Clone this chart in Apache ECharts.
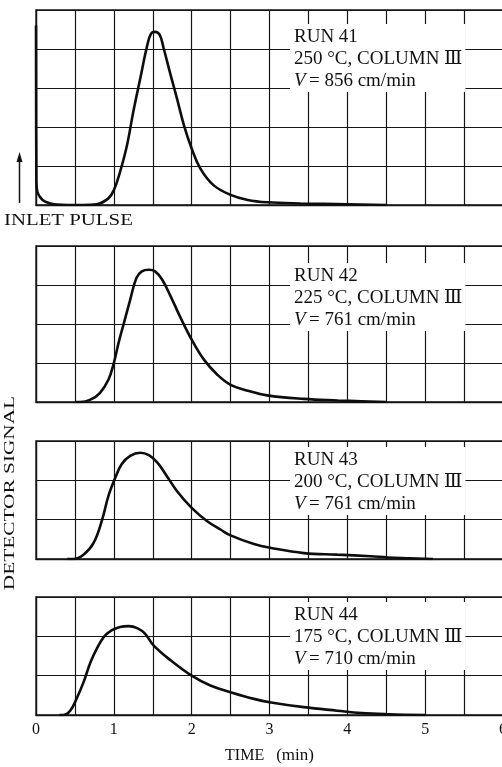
<!DOCTYPE html>
<html>
<head>
<meta charset="utf-8">
<title>Detector signal, runs 41-44</title>
<script src="https://cdn.jsdelivr.net/npm/echarts@6/dist/echarts.min.js"></script>
<style>
  html, body { margin: 0; padding: 0; background: #fff; }
  #chart { width: 502px; height: 767px; }
</style>
</head>
<body>
<div id="chart"></div>
<script>
// values (time in min, signal in grid divisions)
var run41Time = [0, 0.005, 0.017, 0.05, 0.09, 0.14, 0.2, 0.27, 0.4, 0.6, 0.78, 0.93, 1.0, 1.08, 1.17, 1.25, 1.34, 1.43, 1.48, 1.53, 1.59, 1.64, 1.73, 1.81, 1.9, 2.0, 2.11, 2.28, 2.5, 2.72, 2.97, 3.4, 4.0, 4.5]
var run41Signal = [4.6, 0.6, 0.34, 0.21, 0.12, 0.07, 0.03, 0.01, 0, 0, 0.02, 0.17, 0.38, 0.85, 1.54, 2.39, 3.25, 4.1, 4.4, 4.44, 4.36, 4.02, 3.33, 2.74, 2.05, 1.45, 0.94, 0.51, 0.26, 0.13, 0.07, 0.04, 0.02, 0]

var run42Time = [0.5, 0.57, 0.7, 0.82, 0.93, 1.0, 1.06, 1.13, 1.21, 1.29, 1.36, 1.45, 1.53, 1.62, 1.73, 1.86, 2.0, 2.16, 2.33, 2.5, 2.72, 2.97, 3.44, 3.88, 4.18, 4.5]
var run42Signal = [0, 0, 0.06, 0.23, 0.57, 1.0, 1.51, 2.03, 2.62, 3.18, 3.35, 3.39, 3.35, 3.14, 2.71, 2.15, 1.6, 1.08, 0.7, 0.44, 0.29, 0.17, 0.08, 0.04, 0.02, 0]

var run43Time = [0.4, 0.48, 0.61, 0.74, 0.85, 0.93, 1.02, 1.1, 1.21, 1.34, 1.45, 1.56, 1.68, 1.81, 2.0, 2.2, 2.37, 2.5, 2.8, 3.02, 3.44, 3.87, 4.3, 4.52, 4.8, 5.1]
var run43Signal = [0, 0, 0.11, 0.41, 1.0, 1.6, 2.07, 2.41, 2.62, 2.7, 2.64, 2.45, 2.11, 1.73, 1.3, 0.96, 0.75, 0.6, 0.38, 0.28, 0.15, 0.11, 0.07, 0.04, 0.02, 0]

var run44Time = [0.3, 0.35, 0.44, 0.52, 0.61, 0.7, 0.78, 0.87, 0.97, 1.08, 1.19, 1.3, 1.4, 1.51, 1.73, 2.0, 2.24, 2.5, 2.8, 3.02, 3.44, 3.87, 4.18, 4.52, 5.0]
var run44Signal = [0, 0, 0.11, 0.41, 0.83, 1.34, 1.68, 1.98, 2.15, 2.24, 2.26, 2.21, 2.07, 1.77, 1.39, 1.0, 0.75, 0.58, 0.41, 0.32, 0.2, 0.11, 0.05, 0.02, 0]

var runNames = ['RUN 41', 'RUN 42', 'RUN 43', 'RUN 44']
var runConditions = ['250 °C, COLUMN Ⅲ', '225 °C, COLUMN Ⅲ', '200 °C, COLUMN Ⅲ', '175 °C, COLUMN Ⅲ']
var runVelocities = ['856 cm/min', '761 cm/min', '761 cm/min', '710 cm/min']
var divisions = [5, 4, 3, 3]
var timeTicks = [0, 1, 2, 3, 4, 5, 6]

var serif = '"Liberation Serif", "DejaVu Serif", "Noto Sans CJK JP", serif'
var ink = '#151515'

var panels = [
  {top: 10, height: 195, labelTop: 24},
  {top: 246, height: 156, labelTop: 263},
  {top: 441, height: 118, labelTop: 447},
  {top: 597, height: 118, labelTop: 602}
]
var runs = [
  [run41Time, run41Signal],
  [run42Time, run42Signal],
  [run43Time, run43Signal],
  [run44Time, run44Signal]
]

function zip(xs, ys) {
  return xs.map(function (x, i) { return [x, ys[i]] })
}

var chart = echarts.init(document.getElementById('chart'))

var grids = [], xAxes = [], yAxes = [], series = [], graphics = []

panels.forEach(function (p, i) {
  var last = i === panels.length - 1
  grids.push({
    left: 36, right: -1, top: p.top, height: p.height,
    outerBoundsMode: 'none', containLabel: false,
    show: true, borderColor: ink, borderWidth: 1.3, backgroundColor: '#fff'
  })
  xAxes.push({
    type: 'value', gridIndex: i, min: 0, max: 6, interval: 0.5,
    axisLine: {show: true, lineStyle: {color: ink, width: 1.3}},
    axisTick: {show: false},
    splitLine: {show: true, lineStyle: {color: ink, width: 1.2}},
    axisLabel: {
      show: last, margin: 7, color: '#111', fontFamily: serif, fontSize: 16,
      showMaxLabel: true, hideOverlap: false,
      formatter: function (v) { return timeTicks.indexOf(v) >= 0 ? String(v) : '' }
    },
    name: last ? 'TIME   {s|(min)}' : '',
    nameLocation: 'middle', nameGap: 32,
    nameTextStyle: {
      color: '#111', fontFamily: serif, fontSize: 16,
      rich: {s: {fontFamily: serif, fontSize: 17, color: '#111'}}
    }
  })
  yAxes.push({
    type: 'value', gridIndex: i, min: 0, max: divisions[i], interval: 1,
    axisLine: {show: true, lineStyle: {color: ink, width: 1.3}},
    axisTick: {show: false},
    axisLabel: {show: false},
    splitLine: {show: true, lineStyle: {color: ink, width: 1.2}}
  })
  series.push({
    type: 'line', name: runNames[i], xAxisIndex: i, yAxisIndex: i,
    data: zip(runs[i][0], runs[i][1]),
    showSymbol: false, smooth: 0.4, clip: true,
    lineStyle: {color: '#0d0d0d', width: 2.6}
  })
  // run annotation on a white box that hides the grid behind it
  graphics.push({
    type: 'text', left: 290, top: p.labelTop, z: 100,
    style: {
      text: '{a|' + runNames[i] + '}\n{a|' + runConditions[i] + '}\n{i|V} {a|= ' + runVelocities[i] + '}',
      backgroundColor: '#fff',
      padding: [2, 3, 0, 4],
      rich: {
        a: {fontFamily: serif, fontSize: 19, lineHeight: 22, fill: '#111'},
        i: {fontFamily: serif, fontSize: 19, lineHeight: 22, fontStyle: 'italic', fill: '#111'}
      }
    }
  })
})

graphics.push(
  {
    type: 'text', left: 4, top: 213,
    style: {text: 'INLET PULSE', fontFamily: serif, fontSize: 16, fill: '#111'},
    scaleX: 1.3, originX: 4
  },
  {
    type: 'line', shape: {x1: 19.5, y1: 203, x2: 19.5, y2: 160},
    style: {stroke: '#111', lineWidth: 1.5}
  },
  {
    type: 'polygon', shape: {points: [[16.5, 162], [19.5, 152], [22.5, 162]]},
    style: {fill: '#111'}
  },
  {
    type: 'text', x: 10, y: 493, rotation: Math.PI / 2,
    style: {
      text: 'DETECTOR SIGNAL', fontFamily: serif, fontSize: 15, fill: '#111',
      align: 'center', verticalAlign: 'middle'
    },
    scaleX: 1.42
  }
)

chart.setOption({
  animation: false,
  backgroundColor: '#fff',
  grid: grids,
  xAxis: xAxes,
  yAxis: yAxes,
  series: series,
  graphic: graphics
})
</script>
</body>
</html>
